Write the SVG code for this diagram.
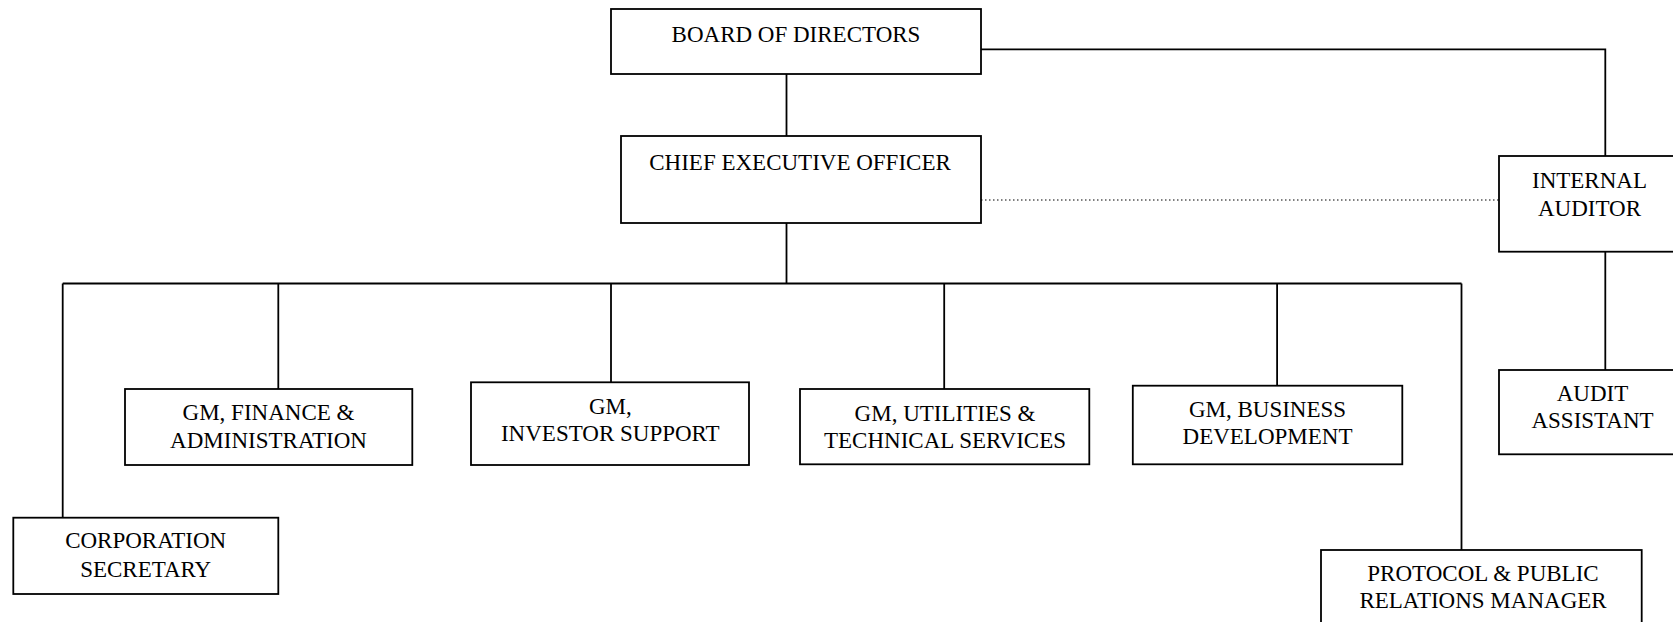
<svg xmlns="http://www.w3.org/2000/svg" width="1673" height="622" viewBox="0 0 1673 622">
<style>
.box{fill:#fff;stroke:#000;stroke-width:1.8}
.ln{fill:none;stroke:#000;stroke-width:1.8}
.dot{fill:none;stroke:#000;stroke-width:1;stroke-dasharray:1.5 2.5}
text{font-family:"Liberation Serif","Times New Roman",serif;font-size:23px;fill:#000;text-anchor:middle}
</style>
<rect width="1673" height="622" fill="#fff"/>
<g id="connectors">
<line class="ln" x1="786.5" y1="74" x2="786.5" y2="136"/>
<polyline class="ln" points="981,49.3 1605.3,49.3 1605.3,156"/>
<line class="dot" x1="981" y1="200" x2="1499" y2="200"/>
<line class="ln" x1="786.5" y1="223" x2="786.5" y2="283.5"/>
<line class="ln" x1="62.7" y1="283.5" x2="1461.5" y2="283.5"/>
<line class="ln" x1="62.7" y1="283.5" x2="62.7" y2="517.7"/>
<line class="ln" x1="278.3" y1="283.5" x2="278.3" y2="389"/>
<line class="ln" x1="611" y1="283.5" x2="611" y2="382.3"/>
<line class="ln" x1="944.2" y1="283.5" x2="944.2" y2="389"/>
<line class="ln" x1="1277.1" y1="283.5" x2="1277.1" y2="387.3"/>
<line class="ln" x1="1461.5" y1="283.5" x2="1461.5" y2="550"/>
<line class="ln" x1="1605.3" y1="251.7" x2="1605.3" y2="370"/>
</g>
<g id="board">
<rect class="box" x="611" y="9" width="370" height="65"/>
<text x="796" y="42">BOARD OF DIRECTORS</text>
</g>
<g id="ceo">
<rect class="box" x="621" y="136" width="360" height="87"/>
<text x="800" y="170">CHIEF EXECUTIVE OFFICER</text>
</g>
<g id="internal-auditor">
<rect class="box" x="1499" y="156" width="186" height="95.7"/>
<text x="1589.5" y="188">INTERNAL</text>
<text x="1589.5" y="215.7">AUDITOR</text>
</g>
<g id="audit-assistant">
<rect class="box" x="1499" y="370" width="187" height="84.3"/>
<text x="1592.5" y="401">AUDIT</text>
<text x="1592.5" y="428.3">ASSISTANT</text>
</g>
<g id="finance">
<rect class="box" x="125" y="389" width="287.3" height="76"/>
<text x="268.5" y="420">GM, FINANCE &amp;</text>
<text x="268.5" y="447.7">ADMINISTRATION</text>
</g>
<g id="investor">
<rect class="box" x="471" y="382.3" width="278" height="82.7"/>
<text x="610.3" y="414">GM,</text>
<text x="610.3" y="441">INVESTOR SUPPORT</text>
</g>
<g id="utilities">
<rect class="box" x="800" y="389" width="289.3" height="75.3"/>
<text x="945" y="420.7">GM, UTILITIES &amp;</text>
<text x="945" y="447.7">TECHNICAL SERVICES</text>
</g>
<g id="business">
<rect class="box" x="1132.8" y="385.7" width="269.5" height="78.6"/>
<text x="1267.5" y="416.7">GM, BUSINESS</text>
<text x="1267.5" y="444.3">DEVELOPMENT</text>
</g>
<g id="corp-secretary">
<rect class="box" x="13.3" y="517.7" width="265" height="76.3"/>
<text x="145.7" y="548.3">CORPORATION</text>
<text x="145.7" y="576.7">SECRETARY</text>
</g>
<g id="protocol">
<rect class="box" x="1321" y="550" width="320.7" height="90"/>
<text x="1483" y="580.7">PROTOCOL &amp; PUBLIC</text>
<text x="1483" y="608.3">RELATIONS MANAGER</text>
</g>
</svg>
